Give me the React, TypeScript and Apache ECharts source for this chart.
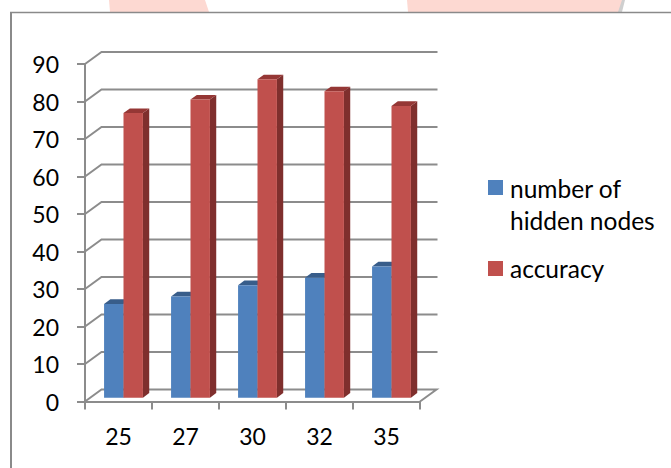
import React, { useEffect, useRef } from "react";
import * as echarts from "echarts";

const categories = ["25", "27", "30", "32", "35"];
const hiddenNodes = [25, 27, 30, 32, 35];
const accuracy = [75.9, 79.5, 84.9, 81.7, 77.8];
const yTicks = [0, 10, 20, 30, 40, 50, 60, 70, 80, 90];
const legendNames = ["number of\nhidden nodes", "accuracy"];

const FONT = "Lato, 'Open Sans', sans-serif";
const GRID = "#8c8c8c";
const PINK = "#fdd9d2";
const BLUE = { front: "#4f81bd", side: "#2f4f77", top: "#385d8a" };
const RED = { front: "#c0504d", side: "#7f2f2d", top: "#953735" };
const DX = 16.5;
const DY = 12;

function barRenderer(col: typeof BLUE, offset: number) {
  return (params: any, api: any) => {
    const idx = api.value(0);
    const base = api.coord([idx, 0]);
    const top = api.coord([idx, api.value(1)]);
    const w = api.size([1, 0])[0] * 0.29;
    const x0 = base[0] + 5 + offset * w;
    const x1 = x0 + w;
    const yB = base[1] - 3.8;
    const yT = top[1] - 3.8;
    const d = 6.3;
    const h = 4.7;
    const poly = (points: number[][], fill: string) => ({
      type: "polygon",
      shape: { points },
      style: { fill },
    });
    return {
      type: "group",
      children: [
        poly([[x1, yT], [x1 + d, yT - h], [x1 + d, yB - h], [x1, yB]], col.side),
        poly([[x0, yT], [x0 + d, yT - h], [x1 + d, yT - h], [x1, yT]], col.top),
        poly([[x0, yT], [x1, yT], [x1, yB], [x0, yB]], col.front),
      ],
    };
  };
}

function gridRenderer(params: any, api: any) {
  const v = api.value(0);
  const pL = api.coord([0, v]);
  const cs = params.coordSys;
  const xL = cs.x;
  const xR = cs.x + cs.width;
  const y = pL[1];
  const pts = v === 0
    ? [[xL, y], [xL + DX, y - DY], [xR + DX, y - DY], [xR, y]]
    : [[xL, y], [xL + DX, y - DY], [xR + DX + 1, y - DY]];
  return {
    type: "polyline",
    shape: { points: pts },
    style: { stroke: GRID, lineWidth: 2, fill: "none" },
  };
}

export default function App() {
  const ref = useRef<HTMLDivElement>(null);
  useEffect(() => {
    const chart = echarts.init(ref.current!, null, { renderer: "svg" });
    chart.setOption({
      animation: false,
      backgroundColor: "#fff",
      grid: { left: 85, right: 251, top: 64, bottom: 66.5 },
      xAxis: {
        type: "category",
        data: categories,
        axisLine: { lineStyle: { color: GRID, width: 2 } },
        axisTick: { show: true, alignWithLabel: false, length: 8, lineStyle: { color: GRID, width: 2 } },
        axisLabel: { color: "#000", fontFamily: FONT, fontSize: 23, margin: 23 },
        splitLine: { show: false },
      },
      yAxis: {
        type: "value",
        min: 0,
        max: 90,
        interval: 10,
        axisLine: { show: true, lineStyle: { color: GRID, width: 2 } },
        axisTick: { show: true, length: 8, lineStyle: { color: GRID, width: 2 } },
        axisLabel: { color: "#000", fontFamily: FONT, fontSize: 23, margin: 26 },
        splitLine: { show: false },
      },
      series: [
        {
          type: "custom",
          name: "grid",
          silent: true,
          data: yTicks.map((v) => [v]),
          encode: { y: 0 },
          renderItem: gridRenderer,
          z: 1,
        },
        {
          type: "custom",
          name: legendNames[0],
          data: hiddenNodes.map((v, i) => [i, v]),
          encode: { x: 0, y: 1 },
          renderItem: barRenderer(BLUE, -1),
          z: 2,
        },
        {
          type: "custom",
          name: legendNames[1],
          data: accuracy.map((v, i) => [i, v]),
          encode: { x: 0, y: 1 },
          renderItem: barRenderer(RED, 0),
          z: 3,
        },
      ],
      graphic: [
        { type: "polygon", shape: { points: [[109, 0], [205, 0], [209, 12], [110, 12]] }, style: { fill: PINK }, silent: true },
        { type: "polygon", shape: { points: [[621, 0], [625, 0], [622, 12], [617, 12]] }, style: { fill: "#cfcfcf" }, silent: true },
        { type: "polygon", shape: { points: [[407, 0], [622, 0], [618, 12], [408, 12]] }, style: { fill: PINK }, silent: true },
        { type: "line", shape: { x1: 10, y1: 12.5, x2: 671, y2: 12.5 }, style: { stroke: "#8a8a8a", lineWidth: 1.3 }, silent: true },
        { type: "line", shape: { x1: 11, y1: 12, x2: 11, y2: 468 }, style: { stroke: "#8a8a8a", lineWidth: 2 }, silent: true },
        { type: "rect", x: 488, y: 180, shape: { width: 15, height: 15 }, style: { fill: BLUE.front } },
        { type: "text", x: 510, y: 172, style: { text: legendNames[0], fill: "#000", font: `24.5px ${FONT}`, lineHeight: 32 } },
        { type: "rect", x: 488, y: 261, shape: { width: 15, height: 15 }, style: { fill: RED.front } },
        { type: "text", x: 510, y: 252, style: { text: legendNames[1], fill: "#000", font: `24.5px ${FONT}`, lineHeight: 32 } },
      ],
    });
    return () => chart.dispose();
  }, []);
  return <div ref={ref} style={{ width: 671, height: 468, position: "fixed", left: 0, top: 0 }} />;
}
